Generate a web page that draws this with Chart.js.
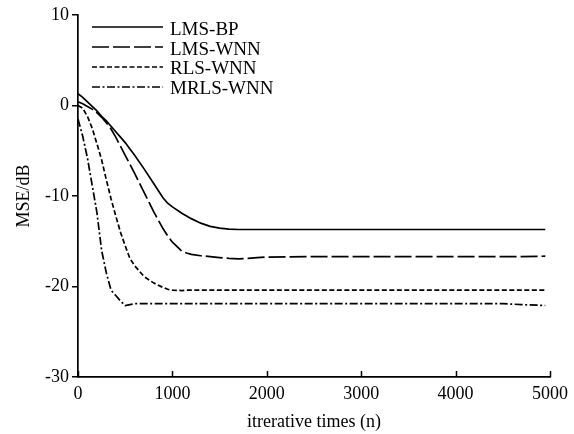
<!DOCTYPE html>
<html>
<head>
<meta charset="utf-8">
<script src="https://cdn.jsdelivr.net/npm/chart.js@4"></script>
<style>
  body { margin: 0; background: #fff; }
  canvas { display: block; }
</style>
</head>
<body>
<canvas class="chart-js" width="574" height="434"></canvas>
<script>
const ctx = document.querySelector('.chart-js').getContext('2d');
const FONT = '"Liberation Serif", "Times New Roman", serif';

// iteration numbers shared by all curves
const iterations = [0, 50, 100, 150, 200, 250, 300, 350, 400, 450, 500, 550, 600, 700, 800, 900, 950, 1000,
    1100, 1150, 1200, 1300, 1400, 1500, 1600, 1700, 1800, 1900, 2000, 2500, 3000, 3500, 4000, 4500, 4700, 4950];

const lmsBp = [1.3, 0.9, 0.4, -0.1, -0.6, -1.2, -1.7, -2.3, -2.9, -3.5, -4.1, -4.8, -5.5, -7.0, -8.6, -10.2, -10.8, -11.2,
    -11.9, -12.2, -12.5, -13.0, -13.35, -13.55, -13.65, -13.7, -13.7, -13.7, -13.7, -13.7, -13.7, -13.7, -13.7, -13.7, -13.7, -13.7];

const lmsWnn = [0.4, 0.2, -0.1, -0.4, -0.8, -1.3, -1.9, -2.6, -3.5, -4.5, -5.5, -6.5, -7.5, -9.6, -11.7, -13.6, -14.4, -15.1,
    -16.1, -16.3, -16.45, -16.6, -16.7, -16.8, -16.9, -16.95, -16.9, -16.8, -16.75, -16.7, -16.7, -16.7, -16.7, -16.7, -16.7, -16.65];

const rlsWnn = [0, -0.3, -1.2, -2.5, -4.2, -6.0, -8.2, -10.3, -12.2, -14.0, -15.5, -16.9, -17.7, -18.9, -19.6, -20.1, -20.3, -20.4,
    -20.45, -20.4, -20.4, -20.4, -20.4, -20.4, -20.4, -20.4, -20.4, -20.4, -20.4, -20.4, -20.4, -20.4, -20.4, -20.4, -20.4, -20.4];

const mrlsWnn = [-1.5, -3.4, -5.8, -8.8, -11.8, -16.0, -18.5, -20.4, -21.0, -21.6, -22.1, -22.0, -21.9, -21.9, -21.9, -21.9, -21.9, -21.9,
    -21.9, -21.9, -21.9, -21.9, -21.9, -21.9, -21.9, -21.9, -21.9, -21.9, -21.9, -21.9, -21.9, -21.9, -21.9, -21.9, -22.0, -22.1];

const seriesLabels = ['LMS-BP', 'LMS-WNN', 'RLS-WNN', 'MRLS-WNN'];
const seriesDashes = [[], [17, 4], [5, 2.5], [8, 2.5, 2, 2.5]];

const xTicks = [0, 1000, 2000, 3000, 4000, 5000];
const yTicks = [10, 0, -10, -20, -30];

function toPoints(values) {
    return values.map((v, i) => ({ x: iterations[i], y: v }));
}

// legend in the upper left corner, drawn with the dataset dashes
const cornerLegend = {
    id: 'cornerLegend',
    afterDraw(chart) {
        const c = chart.ctx;
        c.save();
        chart.data.datasets.forEach((ds, i) => {
            const ly = 27 + i * 20;
            c.beginPath();
            c.setLineDash(ds.borderDash);
            c.lineWidth = 1.7;
            c.strokeStyle = '#000';
            c.moveTo(92, ly);
            c.lineTo(163, ly);
            c.stroke();
            c.setLineDash([]);
            c.fillStyle = '#000';
            c.font = '19px ' + FONT;
            c.textBaseline = 'alphabetic';
            c.fillText(ds.label, 170, 35 + i * 19.5);
        });
        c.restore();
    }
};

// x tick marks point up into the plot
const innerTicks = {
    id: 'innerTicks',
    afterDraw(chart) {
        const c = chart.ctx;
        const sx = chart.scales.x;
        const bottom = chart.chartArea.bottom;
        c.save();
        c.strokeStyle = '#000';
        c.lineWidth = 1.5;
        xTicks.forEach(t => {
            const px = Math.round(sx.getPixelForValue(t)) + 0.5;
            c.beginPath();
            c.moveTo(px, bottom);
            c.lineTo(px, bottom - 6);
            c.stroke();
        });
        c.restore();
    }
};

new Chart(ctx, {
    type: 'line',
    data: {
        datasets: [lmsBp, lmsWnn, rlsWnn, mrlsWnn].map((vals, i) => ({
            label: seriesLabels[i],
            data: toPoints(vals),
            borderColor: '#000',
            borderWidth: 1.7,
            borderDash: seriesDashes[i],
            pointRadius: 0,
            tension: 0,
            fill: false,
        }))
    },
    options: {
        responsive: false,
        animation: false,
        layout: { padding: { left: 0, top: 15, right: 19, bottom: 0 } },
        plugins: {
            legend: { display: false },
            tooltip: { enabled: false },
        },
        scales: {
            x: {
                type: 'linear',
                min: 0,
                max: 5000,
                afterBuildTicks(scale) {
                    scale.ticks = xTicks.map(v => ({ value: v }));
                },
                afterFit(scale) { scale.height = 57; },
                grid: { display: false, drawTicks: false },
                border: { display: true, color: '#000', width: 1.7 },
                ticks: {
                    color: '#000',
                    padding: 6,
                    maxRotation: 0,
                    font: { family: FONT, size: 18 },
                    callback: value => String(value),
                },
                title: {
                    display: true,
                    text: 'itrerative times (n)',
                    color: '#000',
                    font: { family: FONT, size: 18 },
                    padding: { top: 0, bottom: 1 },
                },
            },
            y: {
                min: -30,
                max: 10,
                afterBuildTicks(scale) {
                    scale.ticks = yTicks.map(v => ({ value: v }));
                },
                afterFit(scale) { scale.width = 78; },
                grid: {
                    display: true,
                    drawOnChartArea: false,
                    drawTicks: true,
                    tickLength: 6,
                    color: '#000',
                    lineWidth: 1.5,
                },
                border: { display: true, color: '#000', width: 1.7 },
                ticks: {
                    color: '#000',
                    padding: 3,
                    font: { family: FONT, size: 18 },
                    callback: value => String(value),
                },
                title: {
                    display: true,
                    text: 'MSE/dB',
                    color: '#000',
                    font: { family: FONT, size: 18 },
                    padding: { top: 13, bottom: 0 },
                },
            },
        },
    },
    plugins: [cornerLegend, innerTicks],
});
</script>
</body>
</html>
